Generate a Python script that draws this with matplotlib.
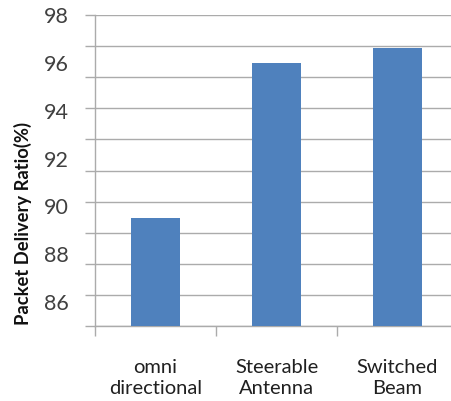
import matplotlib
matplotlib.use("Agg")
import matplotlib.pyplot as plt
import numpy as np

categories = ["omni\ndirectional", "Steerable\nAntenna", "Switched\nBeam"]
values = [89.5, 96.0, 96.6]
ytick_labels = [86, 88, 90, 92, 94, 96, 98]

plt.rcParams['font.family'] = ['Lato', 'DejaVu Sans']

fig = plt.figure(figsize=(4.51, 4.01), dpi=100)
ax = fig.add_axes([95/451, 75/401, 363/451, 311/401])

x = np.arange(len(categories))
ax.bar(x, values, width=0.4, color="#4F81BD", zorder=3)
ax.set_xlim(-0.5, len(categories) - 0.5)
ax.set_ylim(85, 98)

grid_color = "#ababab"
ax.yaxis.remove_overlapping_locs = False
ax.set_yticks(np.linspace(85, 98, 11))
ax.set_yticklabels([])
ax.tick_params(axis='y', which='major', length=7, color=grid_color, width=1)
ax.set_yticks(ytick_labels, minor=True)
ax.set_yticklabels([str(v) for v in ytick_labels], minor=True, fontsize=15.5, color="#404040")
ax.tick_params(axis='y', which='minor', length=0, pad=19)
ax.yaxis.grid(True, which='major', color=grid_color, linewidth=1, zorder=0)

ax.set_xticks(np.arange(-0.5, len(categories) + 0.5, 1.0))
ax.set_xticklabels([])
ax.set_xticks(x, minor=True)
ax.set_xticklabels(categories, minor=True, fontsize=14.5, color="#202020", linespacing=1.25)
ax.tick_params(axis='x', which='major', length=7, color=grid_color, width=1)
ax.tick_params(axis='x', which='minor', length=0, pad=24)

for s in ["top", "right"]:
    ax.spines[s].set_visible(False)
for s in ["left", "bottom"]:
    ax.spines[s].set_color(grid_color)
    ax.spines[s].set_linewidth(1)

ax.set_ylabel("Packet Delivery Ratio(%)", fontsize=13.2, fontweight="bold", color="#111111")
ax.yaxis.set_label_coords(-0.174, 0.331)

fig.savefig("out.png", dpi=100)
